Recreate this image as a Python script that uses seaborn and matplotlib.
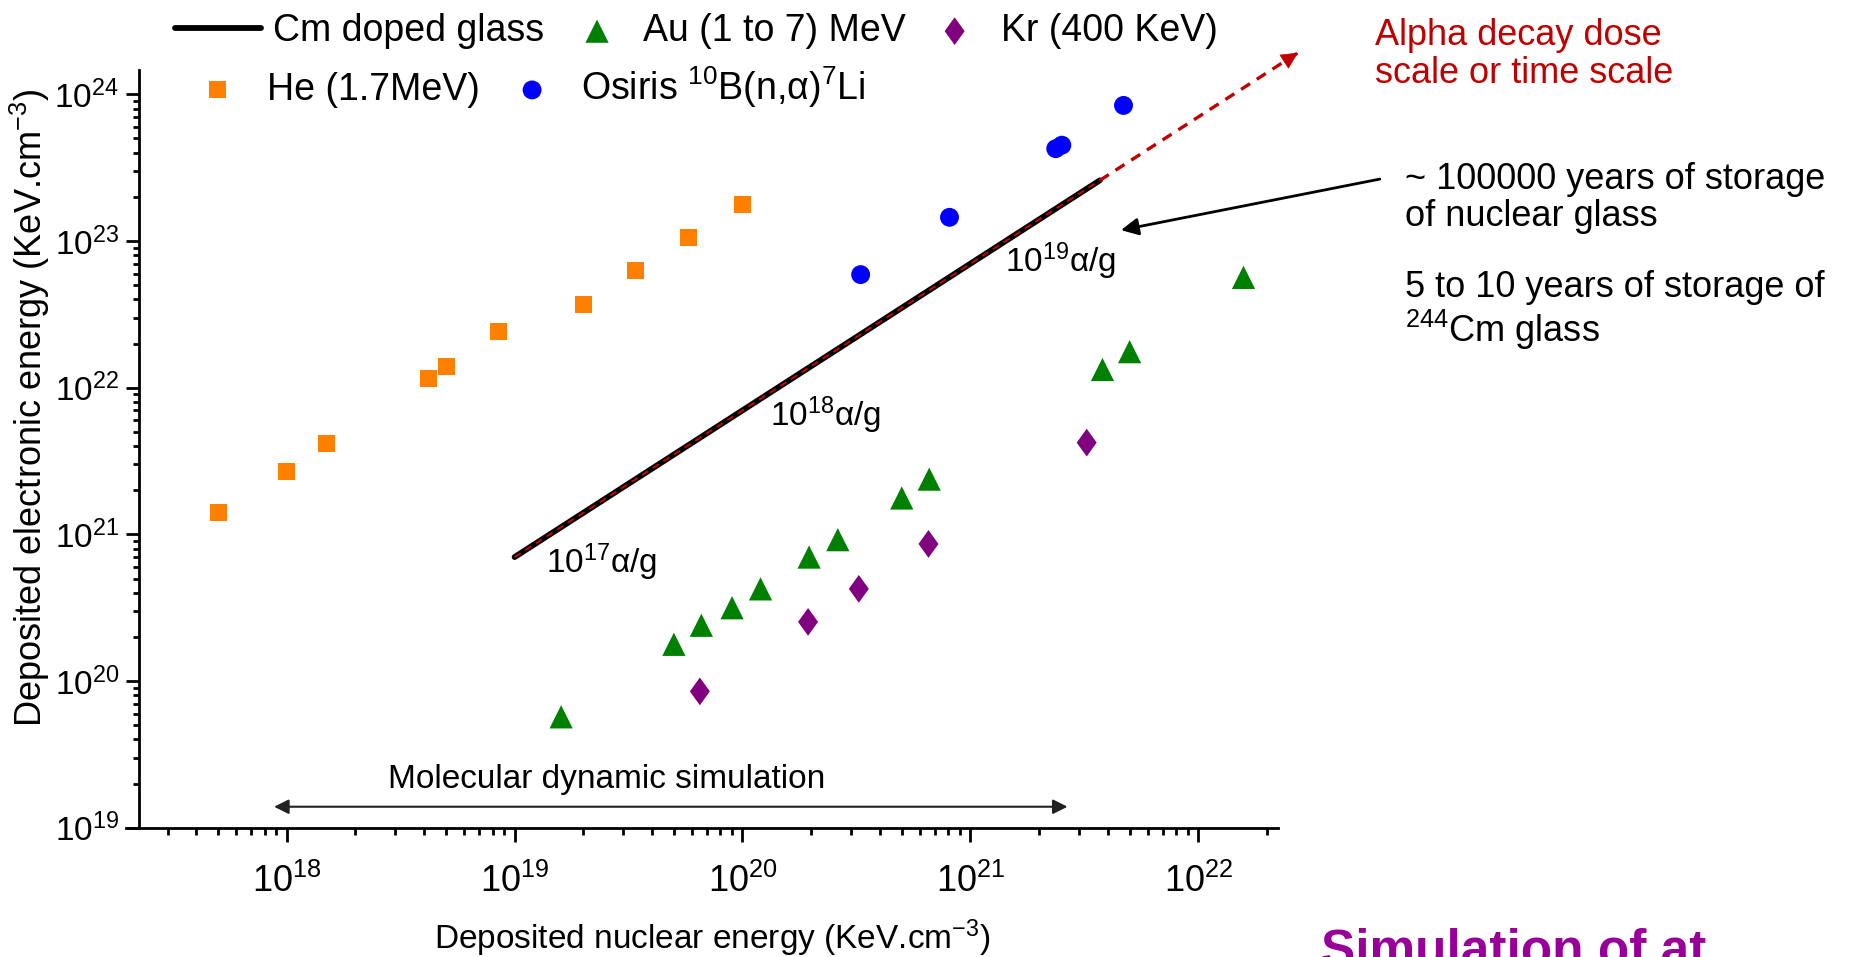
import numpy as np
import matplotlib
matplotlib.use("Agg")
import matplotlib.pyplot as plt
import seaborn as sns
from matplotlib.markers import MarkerStyle
from matplotlib.transforms import Affine2D
from matplotlib.ticker import LogLocator, LogFormatterSciNotation, NullFormatter

# Deposited nuclear energy (x) vs deposited electronic energy (y), KeV.cm^-3
he_nuc = [5.0e17, 1.0e18, 1.5e18, 4.2e18, 5.0e18, 8.5e18, 2.0e19, 3.4e19, 5.8e19, 1.0e20]
he_elec = [1.42e21, 2.7e21, 4.15e21, 1.15e22, 1.4e22, 2.4e22, 3.7e22, 6.3e22, 1.06e23, 1.78e23]

osiris_nuc = [3.3e20, 8.1e20, 2.37e21, 2.52e21, 4.7e21]
osiris_elec = [5.9e22, 1.45e23, 4.26e23, 4.5e23, 8.4e23]

au_nuc = [1.6e19, 5.0e19, 6.6e19, 9.0e19, 1.2e20, 1.96e20, 2.62e20, 5.0e20, 6.6e20,
          3.8e21, 5.0e21, 1.58e22]
au_elec = [5.7e19, 1.78e20, 2.4e20, 3.16e20, 4.25e20, 7.0e20, 9.2e20, 1.77e21, 2.38e21,
           1.33e22, 1.76e22, 5.65e22]

kr_nuc = [6.5e19, 1.94e20, 3.24e20, 6.55e20, 3.24e21]
kr_elec = [8.5e19, 2.53e20, 4.25e20, 8.6e20, 4.22e21]

# Cm doped glass reference line and its extrapolation (dose / time scale)
cm_nuc = [1.0e19, 3.7e21]
cm_elec = [7.0e20, 2.59e23]
dose_nuc = [3.7e21, 2.74e22]
dose_elec = [2.59e23, 1.92e24]

# alpha-dose labels along the Cm line
dose_labels = [r"$\mathrm{10^{17}\alpha}$/g", r"$\mathrm{10^{18}\alpha}$/g", r"$\mathrm{10^{19}\alpha}$/g"]
dose_label_x = [1.37e19, 1.32e20, 1.42e21]
dose_label_y = [6.47e20, 6.5e21, 7.3e22]

# range covered by molecular dynamics
md_range = [8.8e17, 2.67e21]
md_level = 1.39e19

series_labels = ["Cm doped glass", "Au (1 to 7) MeV", "Kr (400 KeV)",
                 "He (1.7MeV)", r"Osiris $^{10}$B(n,$\mathrm{\alpha}$)$^{7}$Li"]

x_limits = (10 ** 17.353, 10 ** 22.35)
y_limits = (1e19, 10 ** 24.166)

sns.set_theme(style="ticks")
plt.rcParams["font.family"] = ["Liberation Sans", "DejaVu Sans"]
plt.rcParams["mathtext.fontset"] = "custom"
plt.rcParams["mathtext.rm"] = "Liberation Sans"
plt.rcParams["mathtext.it"] = "Liberation Sans:italic"
plt.rcParams["mathtext.bf"] = "Liberation Sans:bold"
plt.rcParams["mathtext.default"] = "regular"
plt.rcParams["text.color"] = "black"
plt.rcParams["axes.labelcolor"] = "black"
plt.rcParams["xtick.color"] = "black"
plt.rcParams["ytick.color"] = "black"

fig = plt.figure(figsize=(18.5, 9.57), dpi=100)
ax = fig.add_axes([0.0753, 0.1351, 0.6155, 0.7918])
ax.set(xscale="log", yscale="log")

# Cm doped glass: black line with thin red dashes on top
sns.lineplot(x=cm_nuc, y=cm_elec, ax=ax, color="black", lw=4.2, sort=False,
             label=series_labels[0], legend=False)
sns.lineplot(x=cm_nuc, y=cm_elec, ax=ax, color="#d40000", lw=1.3, sort=False,
             linestyle=(0, (4, 3)), legend=False)

wide_diamond = MarkerStyle("D", transform=Affine2D().scale(0.72, 1.0))

sns.scatterplot(x=he_nuc, y=he_elec, ax=ax, marker="s", s=150, color="#ff8000",
                edgecolor="none", linewidth=0, label=series_labels[3], legend=False)
sns.scatterplot(x=osiris_nuc, y=osiris_elec, ax=ax, marker="o", s=185, color="#0000ff",
                edgecolor="none", linewidth=0, label=series_labels[4], legend=False)
sns.scatterplot(x=au_nuc, y=au_elec, ax=ax, marker="^", s=280, color="#008000",
                edgecolor="none", linewidth=0, label=series_labels[1], legend=False)
sns.scatterplot(x=kr_nuc, y=kr_elec, ax=ax, marker=wide_diamond, s=200, color="#800080",
                edgecolor="none", linewidth=0, label=series_labels[2], legend=False)

# dashed extrapolation of the Cm line beyond the plotting area
ax.plot(dose_nuc, dose_elec, color="#c00000", lw=2.4, linestyle=(0, (3.2, 2.4)),
        clip_on=False)
tip = (dose_nuc[1], dose_elec[1])
back = (10 ** (np.log10(dose_nuc[1]) - 0.06), 10 ** (np.log10(dose_elec[1]) - 0.06))
ax.annotate("", xy=tip, xytext=back, annotation_clip=False,
            arrowprops=dict(arrowstyle="-|>", color="#c00000", lw=0.5,
                            mutation_scale=28, shrinkA=0, shrinkB=0))

for txt, lx, ly in zip(dose_labels, dose_label_x, dose_label_y):
    ax.text(lx, ly, txt, fontsize=24, ha="left", va="center")

# molecular dynamics range
ax.annotate("", xy=(md_range[0], md_level), xytext=(md_range[1], md_level),
            arrowprops=dict(arrowstyle="<|-|>", color="#222222", lw=1.5,
                            mutation_scale=22, shrinkA=0, shrinkB=0))
ax.text(2.53e19, 2.12e19, "Molecular dynamic simulation", fontsize=24,
        ha="center", va="center")

# arrow from the storage-time note to the end of the Cm line
ax.annotate("", xy=(10 ** 21.661, 10 ** 23.074), xytext=(10 ** 22.797, 10 ** 23.422),
            annotation_clip=False,
            arrowprops=dict(arrowstyle="-|>", color="black", lw=2,
                            mutation_scale=26, shrinkA=0, shrinkB=0))

ax.set_xlim(*x_limits)
ax.set_ylim(*y_limits)

for a in (ax.xaxis, ax.yaxis):
    a.set_major_locator(LogLocator(base=10, numticks=20))
    a.set_minor_locator(LogLocator(base=10, subs=np.arange(2, 10), numticks=100))
    a.set_major_formatter(LogFormatterSciNotation())
    a.set_minor_formatter(NullFormatter())

ax.tick_params(axis="x", which="major", direction="out", length=10, width=2, pad=16,
               labelsize=26)
ax.tick_params(axis="x", which="minor", direction="out", length=5, width=2)
ax.tick_params(axis="y", which="major", direction="out", length=9.5, width=2, pad=5,
               labelsize=24)
ax.tick_params(axis="y", which="minor", direction="out", length=4.5, width=2)

sns.despine(ax=ax)
for side in ("left", "bottom"):
    ax.spines[side].set_linewidth(2)
    ax.spines[side].set_color("black")
ax.spines["bottom"].set_bounds(10 ** (np.log10(x_limits[0]) - 0.057), x_limits[1])
ax.grid(False)

ax.set_xlabel("Deposited nuclear energy (KeV.cm$^{-3}$)", fontsize=24)
ax.set_ylabel("Deposited electronic energy (KeV.cm$^{-3}$)", fontsize=26)
ax.xaxis.set_label_coords(0.503, -0.118)
ax.yaxis.set_label_coords(-0.077, 0.554)

# legend rows
handles, labels = ax.get_legend_handles_labels()
hmap = dict(zip(labels, handles))
common = dict(frameon=False, fontsize=27, borderpad=0, borderaxespad=0, loc="center left")
leg1 = fig.legend([hmap[series_labels[0]]], [series_labels[0]], bbox_to_anchor=(0.0946, 0.9676),
                  handlelength=2.3, handletextpad=0.3, **common)
leg2 = fig.legend([hmap[series_labels[1]], hmap[series_labels[2]]], series_labels[1:3],
                  bbox_to_anchor=(0.3065, 0.9676), ncol=2, handlelength=1.6,
                  handletextpad=0.43, columnspacing=0.5, **common)
leg3 = fig.legend([hmap[series_labels[3]], hmap[series_labels[4]]], series_labels[3:5],
                  bbox_to_anchor=(0.1016, 0.9091), ncol=2, handlelength=1.6,
                  handletextpad=0.5, columnspacing=0.6, **common)

# notes on the right
fig.text(0.743, 0.943, "Alpha decay dose\nscale or time scale", color="#c00000",
         fontsize=26, ha="left", va="center", linespacing=1.1)
fig.text(0.7595, 0.793, "~ 100000 years of storage\nof nuclear glass", fontsize=26,
         ha="left", va="center", linespacing=1.1)
fig.text(0.7595, 0.675, "5 to 10 years of storage of\n$^{244}$Cm glass", fontsize=26,
         ha="left", va="center", linespacing=1.1)
fig.text(0.714, -0.0084, "Simulation of at", fontsize=37, fontweight="bold",
         color="#990099", ha="left", va="baseline")

fig.savefig("out.png", dpi=100)
